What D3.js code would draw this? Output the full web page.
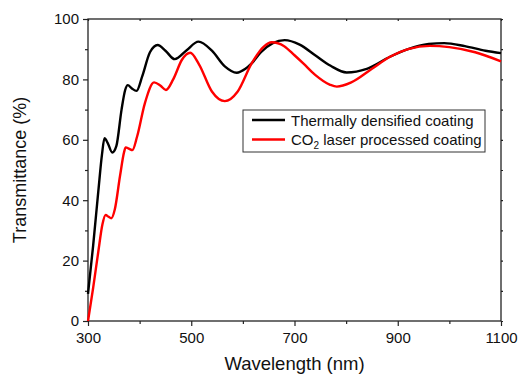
<!DOCTYPE html>
<html>
<head>
<meta charset="utf-8">
<script src="https://cdn.jsdelivr.net/npm/d3@7"></script>
<style>
  html, body { margin: 0; padding: 0; background: #fff; }
  svg { display: block; font-family: Arial, "Liberation Sans", sans-serif; }
</style>
</head>
<body>
<svg id="chart" width="522" height="376"></svg>
<script>
// wavelength (nm) / transmittance (%)
let thermalNm = [300, 310, 320, 327, 332, 338, 347, 355, 365, 372, 377, 385, 394, 405, 420, 435, 450, 468, 490, 514, 540, 565, 588, 605, 617, 635, 658, 681, 710, 740, 770, 801, 840, 885, 920, 960, 990, 1030, 1070, 1100];
let thermalT  = [9, 25, 43, 55, 60.5, 59, 55.8, 58, 70, 76.5, 78.1, 77, 76.2, 81, 89, 91.4, 89.5, 86.7, 89.5, 92.5, 89.5, 84.3, 82.2, 83.5, 85.3, 89, 92, 93, 91.5, 88, 84.5, 82.3, 83.5, 87.5, 90, 91.7, 92, 91, 89.5, 88.7];

let laserNm = [300, 310, 320, 328, 334, 340, 345, 352, 362, 370, 373, 380, 386, 395, 410, 428, 440, 451, 465, 482, 498, 515, 540, 565, 590, 617, 640, 656, 680, 700, 717, 740, 769, 782, 810, 850, 885, 920, 962, 1000, 1050, 1100];
let laserT  = [0, 11, 23, 32, 35.1, 34.5, 34, 37, 48, 56, 57.5, 57, 56.6, 61, 72, 79, 78, 76.5, 80, 86.5, 88.8, 85, 76, 72.8, 76, 85.3, 90.8, 92.3, 91, 88, 85.3, 81.5, 78.2, 77.6, 79, 83.5, 87.5, 90, 91.1, 90.7, 89, 86];

let seriesNames = ["Thermally densified coating", "CO2 laser processed coating"];
let seriesColors = ["#000000", "#ff0000"];

let xMajor = [300, 500, 700, 900, 1100];
let xMinor = [400, 600, 800, 1000];
let yMajor = [0, 20, 40, 60, 80, 100];
let yMinor = [10, 30, 50, 70, 90];

let d3Svg = d3.select("#chart");
let w = +d3Svg.attr("width");
let h = +d3Svg.attr("height");
let margin = { left: 88, right: 21, top: 19, bottom: 55 };
let iw = w - margin.left - margin.right;
let ih = h - margin.top - margin.bottom;

let x = d3.scaleLinear().domain([300, 1100]).range([0, iw]);
let y = d3.scaleLinear().domain([0, 100]).range([ih, 0]);

let g = d3Svg.append("g").attr("transform", `translate(${margin.left},${margin.top})`);

function styleAxis(sel) {
    sel.select(".domain").remove();
    sel.selectAll(".tick line").attr("stroke", "#222").attr("stroke-width", 1.2);
    sel.selectAll(".tick text").attr("font-size", 15).attr("fill", "#111").attr("font-family", "Arial, 'Liberation Sans', sans-serif");
}

// bottom
g.append("g").attr("transform", `translate(0,${ih})`)
    .call(d3.axisBottom(x).tickValues(xMajor).tickSize(5).tickPadding(6).tickFormat(d3.format("d")))
    .call(styleAxis);
g.append("g").attr("transform", `translate(0,${ih})`)
    .call(d3.axisBottom(x).tickValues(xMinor).tickSize(3).tickFormat(""))
    .call(styleAxis);
// left
g.append("g")
    .call(d3.axisLeft(y).tickValues(yMajor).tickSize(5).tickPadding(4).tickFormat(d3.format("d")))
    .call(styleAxis);
g.append("g")
    .call(d3.axisLeft(y).tickValues(yMinor).tickSize(3).tickFormat(""))
    .call(styleAxis);
// top & right (ticks only)
g.append("g")
    .call(d3.axisTop(x).tickValues(xMajor.concat(xMinor)).tickSize(-2).tickFormat(""))
    .call(styleAxis);
g.append("g").attr("transform", `translate(${iw},0)`)
    .call(d3.axisRight(y).tickValues(yMajor.concat(yMinor)).tickSize(2).tickFormat(""))
    .call(styleAxis);

g.append("rect")
    .attr("width", iw).attr("height", ih)
    .attr("fill", "none").attr("stroke", "#222").attr("stroke-width", 1.3);

let line = d3.line()
    .x(d => x(d[0]))
    .y(d => y(d[1]))
    .curve(d3.curveMonotoneX);

let series = [
    d3.zip(thermalNm, thermalT),
    d3.zip(laserNm, laserT)
];

g.selectAll("path.curve")
    .data(series)
    .enter().append("path")
    .attr("class", "curve")
    .attr("d", line)
    .attr("fill", "none")
    .attr("stroke", (d, i) => seriesColors[i])
    .attr("stroke-width", 2.4)
    .attr("stroke-linejoin", "round");

// axis titles
d3Svg.append("text")
    .attr("x", margin.left + iw / 2).attr("y", 370)
    .attr("text-anchor", "middle").attr("font-size", 18.5).attr("fill", "#111")
    .text("Wavelength (nm)");
d3Svg.append("text")
    .attr("transform", `translate(26,${margin.top + ih / 2}) rotate(-90)`)
    .attr("text-anchor", "middle").attr("font-size", 18).attr("fill", "#111")
    .text("Transmittance (%)");

// legend
let lg = d3Svg.append("g").attr("transform", "translate(243,110)");
lg.append("rect").attr("width", 242).attr("height", 42)
    .attr("fill", "#fff").attr("stroke", "#333").attr("stroke-width", 1);
seriesNames.forEach(function (name, i) {
    let cy = 10 + i * 19.5;
    lg.append("line")
        .attr("x1", 9).attr("x2", 42).attr("y1", cy).attr("y2", cy)
        .attr("stroke", seriesColors[i]).attr("stroke-width", 2.4);
    let t = lg.append("text").attr("x", 48).attr("y", cy + 5.5)
        .attr("font-size", 15).attr("fill", "#111");
    if (i === 1) {
        t.append("tspan").text("CO");
        t.append("tspan").attr("font-size", 10).attr("dy", 4).text("2");
        t.append("tspan").attr("dy", -4).text(" laser processed coating");
    } else {
        t.text(name);
    }
});
</script>
</body>
</html>
